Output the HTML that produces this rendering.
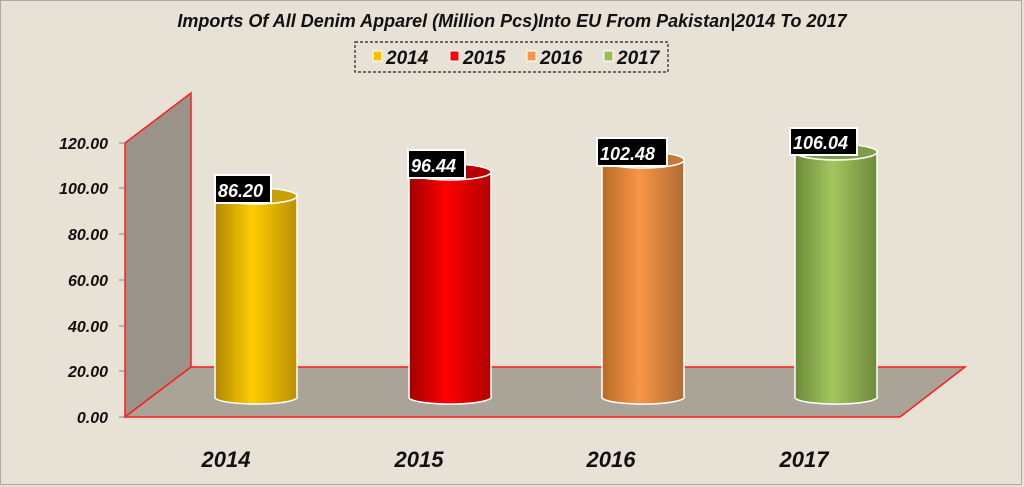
<!DOCTYPE html>
<html><head><style>
html,body{margin:0;padding:0;background:#e8e1d6;}
svg{display:block;}
text{font-family:"Liberation Sans",sans-serif;font-weight:bold;font-style:italic;}
</style></head><body>
<svg width="1024" height="487" viewBox="0 0 1024 487" xmlns="http://www.w3.org/2000/svg">
<defs>
<linearGradient id="gy" x1="0" x2="1"><stop offset="0" stop-color="#b08800"/><stop offset="0.45" stop-color="#ffcc00"/><stop offset="1" stop-color="#b89000"/></linearGradient>
<linearGradient id="gr" x1="0" x2="1"><stop offset="0" stop-color="#a00000"/><stop offset="0.45" stop-color="#ff0000"/><stop offset="1" stop-color="#b00000"/></linearGradient>
<linearGradient id="go" x1="0" x2="1"><stop offset="0" stop-color="#b86a28"/><stop offset="0.45" stop-color="#f79646"/><stop offset="1" stop-color="#b06a30"/></linearGradient>
<linearGradient id="gg" x1="0" x2="1"><stop offset="0" stop-color="#6b8a38"/><stop offset="0.45" stop-color="#a3c55e"/><stop offset="1" stop-color="#6e8a3c"/></linearGradient>
</defs>
<rect x="0" y="0" width="1024" height="487" fill="#e8e1d6"/>
<rect x="0.5" y="0.5" width="1021" height="484" fill="none" stroke="#a8a8a8" stroke-width="1"/>
<text x="512" y="27" font-size="18" text-anchor="middle" fill="#111">Imports Of All Denim Apparel (Million Pcs)Into EU From Pakistan|2014 To 2017</text>
<rect x="355" y="42" width="313" height="30" fill="none" stroke="#222" stroke-dasharray="3,2" stroke-width="1.2"/>
<rect x="373" y="51" width="9" height="10" fill="#ffc000" stroke="#fff"/><text x="386" y="64" font-size="19" fill="#111">2014</text>
<rect x="450" y="51" width="9" height="10" fill="#ff0000" stroke="#fff"/><text x="463" y="64" font-size="19" fill="#111">2015</text>
<rect x="527" y="51" width="9" height="10" fill="#f79646" stroke="#fff"/><text x="540" y="64" font-size="19" fill="#111">2016</text>
<rect x="604" y="51" width="9" height="10" fill="#9bbb59" stroke="#fff"/><text x="617" y="64" font-size="19" fill="#111">2017</text>
<!-- back wall -->
<polygon points="125,143 191,93 191,367 125,417" fill="#9a938a" stroke="#ff1a1a" stroke-width="1.5"/>
<!-- floor -->
<polygon points="125,417 191,367 965,367 900,417" fill="#aaa398" stroke="#ff1a1a" stroke-width="1.5"/>
<g stroke="#888" stroke-width="1">
<line x1="119" y1="417" x2="125" y2="417"/><line x1="119" y1="371" x2="125" y2="371"/><line x1="119" y1="326" x2="125" y2="326"/>
<line x1="119" y1="280" x2="125" y2="280"/><line x1="119" y1="234" x2="125" y2="234"/><line x1="119" y1="188" x2="125" y2="188"/><line x1="119" y1="143" x2="125" y2="143"/>
</g>
<!-- y labels -->
<g font-size="16" fill="#111" text-anchor="end">
<text x="108" y="423">0.00</text><text x="108" y="377">20.00</text><text x="108" y="332">40.00</text>
<text x="108" y="286">60.00</text><text x="108" y="240">80.00</text><text x="108" y="194">100.00</text><text x="108" y="149">120.00</text>
</g>
<!-- cylinders -->
<g stroke="#fff" stroke-width="1.5">
<path d="M215,196 L215,398 A41,7 0 0 0 297,396 L297,194 Z" fill="url(#gy)"/>
<ellipse cx="256" cy="196" rx="41" ry="8" fill="#c9a000"/>
<path d="M409,172 L409,398 A41,7 0 0 0 491,396 L491,170 Z" fill="url(#gr)"/>
<ellipse cx="450" cy="172" rx="41" ry="8" fill="#b80000"/>
<path d="M602,160 L602,398 A41,7 0 0 0 684,396 L684,158 Z" fill="url(#go)"/>
<ellipse cx="643" cy="160" rx="41" ry="8" fill="#c4783a"/>
<path d="M795,152 L795,398 A41,7 0 0 0 877,396 L877,150 Z" fill="url(#gg)"/>
<ellipse cx="836" cy="152" rx="41" ry="8" fill="#7f9c46"/>
</g>
<!-- data labels -->
<g font-size="18" fill="#fff">
<rect x="215" y="175" width="56" height="28" fill="#000" stroke="#fff" stroke-width="2"/><text x="218" y="197">86.20</text>
<rect x="408" y="150" width="57" height="28" fill="#000" stroke="#fff" stroke-width="2"/><text x="411" y="172">96.44</text>
<rect x="597" y="138" width="70" height="28" fill="#000" stroke="#fff" stroke-width="2"/><text x="600" y="160">102.48</text>
<rect x="790" y="128" width="67" height="27" fill="#000" stroke="#fff" stroke-width="2"/><text x="793" y="149">106.04</text>
</g>
<!-- x labels -->
<g font-size="22" fill="#111" text-anchor="middle">
<text x="226" y="467">2014</text><text x="419" y="467">2015</text><text x="611" y="467">2016</text><text x="804" y="467">2017</text>
</g>
</svg>
</body></html>
